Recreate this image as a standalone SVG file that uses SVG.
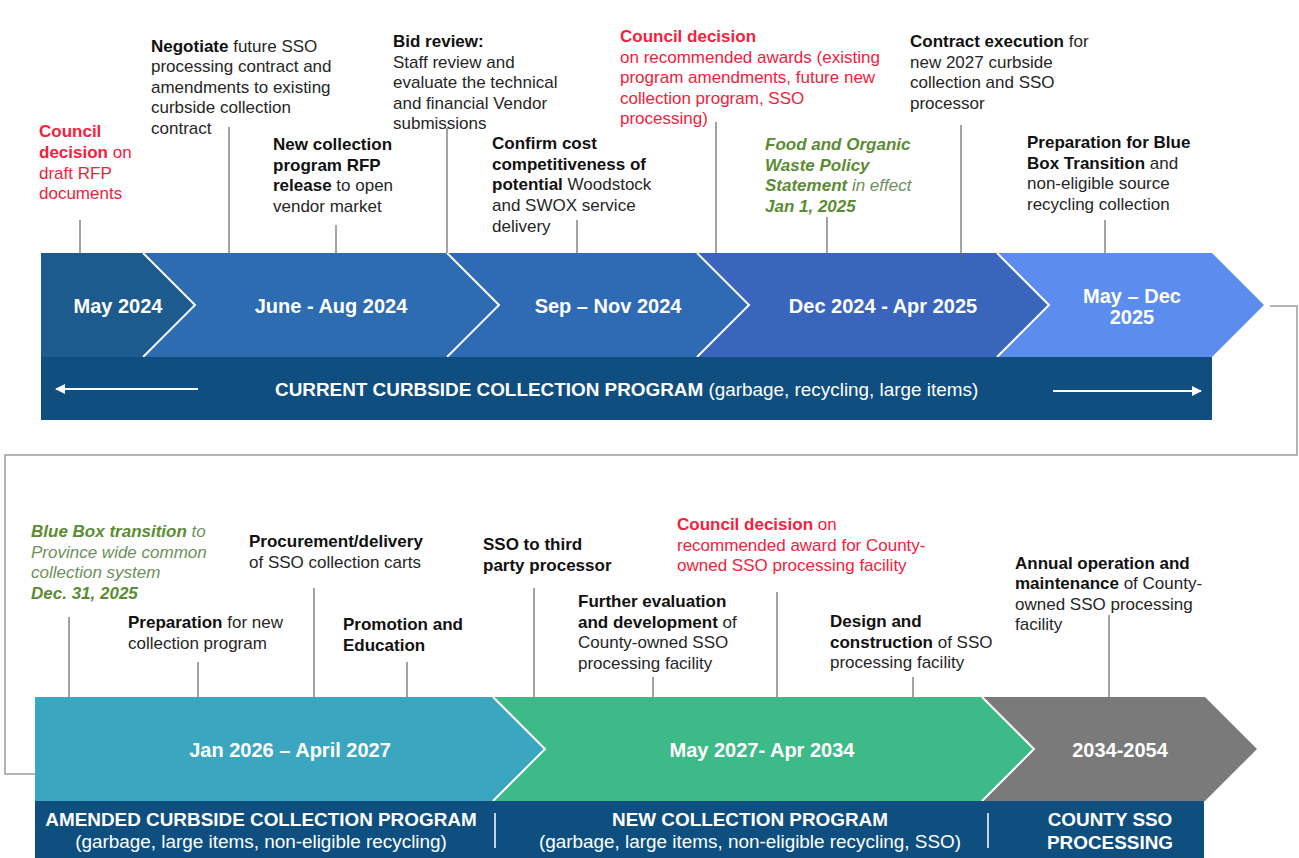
<svg xmlns="http://www.w3.org/2000/svg" width="1299" height="858" viewBox="0 0 1299 858">
<defs>
<style>
text{font-family:"Liberation Sans",Arial,Helvetica,sans-serif}
.lbl{font-size:17px;fill:#262626}
.b{font-weight:bold;fill:#111}
.red{fill:#f4213d}
.red .b{fill:#f4213d}
.grn{fill:#6e8f5c;font-style:italic}
.grn .b{fill:#5b8c33}
.chev{font-size:20px;font-weight:bold;fill:#fff;text-anchor:middle}
.band{font-size:18.9px;fill:#fff}
.bandc{font-size:18.9px;fill:#fff;text-anchor:middle}
.bb{font-weight:bold}
.tick{stroke:#666;stroke-width:1.2}
.frame{stroke:#9c9c9c;stroke-width:1.5;fill:none}
.sep{stroke:#fff;stroke-width:2;fill:none}
</style>
<marker id="ah" viewBox="0 0 10 10" refX="9" refY="5" markerWidth="5" markerHeight="5" orient="auto-start-reverse" markerUnits="strokeWidth">
<path d="M0,0 L10,5 L0,10 z" fill="#fff"/>
</marker>
</defs>
<rect width="1299" height="858" fill="#fff"/>

<g id="frame">
<polyline class="frame" points="1270,306 1297,306 1297,455 5,455 5,774 35,774"/>
</g>

<g id="top-band">
<polygon points="41,253 143,253 195,305 143,357 41,357" fill="#1d5a8e"/>
<polygon points="143,253 447,253 499,305 447,357 143,357 195,305" fill="#2d6cb0"/>
<polygon points="447,253 697,253 749,305 697,357 447,357 499,305" fill="#2f6bb5"/>
<polygon points="697,253 997,253 1049,305 997,357 697,357 749,305" fill="#3965bd"/>
<polygon points="997,253 1212,253 1264,305 1212,357 997,357 1049,305" fill="#5a8dee"/>
<polyline class="sep" points="143,253 195,305 143,357"/>
<polyline class="sep" points="447,253 499,305 447,357"/>
<polyline class="sep" points="697,253 749,305 697,357"/>
<polyline class="sep" points="997,253 1049,305 997,357"/>
<rect x="41" y="357" width="1171" height="63" fill="#0f4e7e"/>
<text class="chev" x="118" y="313">May 2024</text>
<text class="chev" x="331" y="313">June - Aug 2024</text>
<text class="chev" x="608" y="313">Sep – Nov 2024</text>
<text class="chev" x="883" y="313">Dec 2024 - Apr 2025</text>
<text class="chev" x="1132" y="303">May – Dec</text>
<text class="chev" x="1132" y="324">2025</text>
<text class="band" x="275" y="396"><tspan class="bb">CURRENT CURBSIDE COLLECTION PROGRAM</tspan> (garbage, recycling, large items)</text>
<line x1="198" y1="389" x2="56" y2="389" stroke="#fff" stroke-width="2" marker-end="url(#ah)"/>
<line x1="1053" y1="391" x2="1201" y2="391" stroke="#fff" stroke-width="2" marker-end="url(#ah)"/>
</g>

<g id="bottom-band">
<polygon points="35,697 493,697 545,749 493,801 35,801" fill="#3aa6bf"/>
<polygon points="493,697 982,697 1034,749 982,801 493,801 545,749" fill="#3dba88"/>
<polygon points="982,697 1205,697 1257,749 1205,801 982,801 1034,749" fill="#7a7a7a"/>
<polyline class="sep" points="493,697 545,749 493,801"/>
<polyline class="sep" points="982,697 1034,749 982,801"/>
<rect x="35" y="801" width="1169" height="57" fill="#0f4f7f"/>
<text class="chev" x="290" y="757">Jan 2026 – April 2027</text>
<text class="chev" x="762" y="757">May 2027- Apr 2034</text>
<text class="chev" x="1120" y="757">2034-2054</text>
<text class="bandc bb" x="261" y="826">AMENDED CURBSIDE COLLECTION PROGRAM</text>
<text class="bandc" x="261" y="848">(garbage, large items, non-eligible recycling)</text>
<text class="bandc bb" x="750" y="826">NEW COLLECTION PROGRAM</text>
<text class="bandc" x="750" y="848">(garbage, large items, non-eligible recycling, SSO)</text>
<text class="bandc bb" x="1110" y="826">COUNTY SSO</text>
<text class="bandc bb" x="1110" y="849">PROCESSING</text>
<line x1="495" y1="813" x2="495" y2="848" stroke="#fff" stroke-width="1.5"/>
<line x1="988" y1="813" x2="988" y2="848" stroke="#fff" stroke-width="1.5"/>
</g>

<g id="connectors">
<line class="tick" x1="80" y1="220" x2="80" y2="253"/>
<line class="tick" x1="229" y1="127" x2="229" y2="253"/>
<line class="tick" x1="336" y1="225" x2="336" y2="253"/>
<line class="tick" x1="447" y1="128" x2="447" y2="253"/>
<line class="tick" x1="577" y1="220" x2="577" y2="253"/>
<line class="tick" x1="716" y1="122" x2="716" y2="253"/>
<line class="tick" x1="827" y1="217" x2="827" y2="253"/>
<line class="tick" x1="961" y1="125" x2="961" y2="258"/>
<line class="tick" x1="1105" y1="220" x2="1105" y2="253"/>
<line class="tick" x1="69" y1="617" x2="69" y2="697"/>
<line class="tick" x1="198" y1="662" x2="198" y2="697"/>
<line class="tick" x1="314" y1="588" x2="314" y2="697"/>
<line class="tick" x1="407" y1="662" x2="407" y2="697"/>
<line class="tick" x1="534" y1="588" x2="534" y2="697"/>
<line class="tick" x1="653" y1="677" x2="653" y2="697"/>
<line class="tick" x1="777" y1="592" x2="777" y2="697"/>
<line class="tick" x1="913" y1="677" x2="913" y2="697"/>
<line class="tick" x1="1109" y1="615" x2="1109" y2="697"/>
</g>

<g id="n-council-rfp" class="lbl red">
<text x="39" y="137"><tspan class="b">Council</tspan></text>
<text x="39" y="158"><tspan class="b">decision</tspan> on</text>
<text x="39" y="178.5">draft RFP</text>
<text x="39" y="199">documents</text>
</g>
<g id="n-negotiate" class="lbl">
<text x="151" y="51.5"><tspan class="b">Negotiate</tspan> future SSO</text>
<text x="151" y="72">processing contract and</text>
<text x="151" y="92.7">amendments to existing</text>
<text x="151" y="113.3">curbside collection</text>
<text x="151" y="134">contract</text>
</g>
<g id="n-rfp-release" class="lbl">
<text x="273" y="150"><tspan class="b">New collection</tspan></text>
<text x="273" y="170.7"><tspan class="b">program RFP</tspan></text>
<text x="273" y="191.4"><tspan class="b">release</tspan> to open</text>
<text x="273" y="212">vendor market</text>
</g>
<g id="n-bid-review" class="lbl">
<text x="393" y="47"><tspan class="b">Bid review:</tspan></text>
<text x="393" y="67.5">Staff review and</text>
<text x="393" y="88">evaluate the technical</text>
<text x="393" y="108.5">and financial Vendor</text>
<text x="393" y="129">submissions</text>
</g>
<g id="n-confirm-cost" class="lbl">
<text x="492" y="149"><tspan class="b">Confirm cost</tspan></text>
<text x="492" y="169.7"><tspan class="b">competitiveness of</tspan></text>
<text x="492" y="190.4"><tspan class="b">potential</tspan> Woodstock</text>
<text x="492" y="211">and SWOX service</text>
<text x="492" y="231.7">delivery</text>
</g>
<g id="n-council-awards" class="lbl red">
<text x="620" y="42"><tspan class="b">Council decision</tspan></text>
<text x="620" y="62.5">on recommended awards (existing</text>
<text x="620" y="83">program amendments, future new</text>
<text x="620" y="103.5">collection program, SSO</text>
<text x="620" y="124">processing)</text>
</g>
<g id="n-food-organic" class="lbl grn">
<text x="765" y="150"><tspan class="b">Food and Organic</tspan></text>
<text x="765" y="170.5"><tspan class="b">Waste Policy</tspan></text>
<text x="765" y="191"><tspan class="b">Statement</tspan> in effect</text>
<text x="765" y="211.5"><tspan class="b">Jan 1, 2025</tspan></text>
</g>
<g id="n-contract-exec" class="lbl">
<text x="910" y="47"><tspan class="b">Contract execution</tspan> for</text>
<text x="910" y="67.5">new 2027 curbside</text>
<text x="910" y="88">collection and SSO</text>
<text x="910" y="108.5">processor</text>
</g>
<g id="n-blue-box-prep" class="lbl">
<text x="1027" y="148"><tspan class="b">Preparation for Blue</tspan></text>
<text x="1027" y="168.5"><tspan class="b">Box Transition</tspan> and</text>
<text x="1027" y="189">non-eligible source</text>
<text x="1027" y="209.5">recycling collection</text>
</g>

<g id="n-blue-box-transition" class="lbl grn">
<text x="31" y="537"><tspan class="b">Blue Box transition</tspan> to</text>
<text x="31" y="557.5">Province wide common</text>
<text x="31" y="578">collection system</text>
<text x="31" y="598.5"><tspan class="b">Dec. 31, 2025</tspan></text>
</g>
<g id="n-prep-new" class="lbl">
<text x="128" y="628"><tspan class="b">Preparation</tspan> for new</text>
<text x="128" y="648.5">collection program</text>
</g>
<g id="n-procurement" class="lbl">
<text x="249" y="547"><tspan class="b">Procurement/delivery</tspan></text>
<text x="249" y="567.5">of SSO collection carts</text>
</g>
<g id="n-promotion" class="lbl">
<text x="343" y="630"><tspan class="b">Promotion and</tspan></text>
<text x="343" y="650.5"><tspan class="b">Education</tspan></text>
</g>
<g id="n-sso-third" class="lbl">
<text x="483" y="550"><tspan class="b">SSO to third</tspan></text>
<text x="483" y="570.5"><tspan class="b">party processor</tspan></text>
</g>
<g id="n-further-eval" class="lbl">
<text x="578" y="607"><tspan class="b">Further evaluation</tspan></text>
<text x="578" y="627.5"><tspan class="b">and development</tspan> of</text>
<text x="578" y="648">County-owned SSO</text>
<text x="578" y="668.5">processing facility</text>
</g>
<g id="n-council-facility" class="lbl red">
<text x="677" y="530"><tspan class="b">Council decision</tspan> on</text>
<text x="677" y="550.5">recommended award for County-</text>
<text x="677" y="571">owned SSO processing facility</text>
</g>
<g id="n-design" class="lbl">
<text x="830" y="627"><tspan class="b">Design and</tspan></text>
<text x="830" y="647.5"><tspan class="b">construction</tspan> of SSO</text>
<text x="830" y="668">processing facility</text>
</g>
<g id="n-annual" class="lbl">
<text x="1015" y="568.5"><tspan class="b">Annual operation and</tspan></text>
<text x="1015" y="589"><tspan class="b">maintenance</tspan> of County-</text>
<text x="1015" y="609.5">owned SSO processing</text>
<text x="1015" y="630">facility</text>
</g>
</svg>
